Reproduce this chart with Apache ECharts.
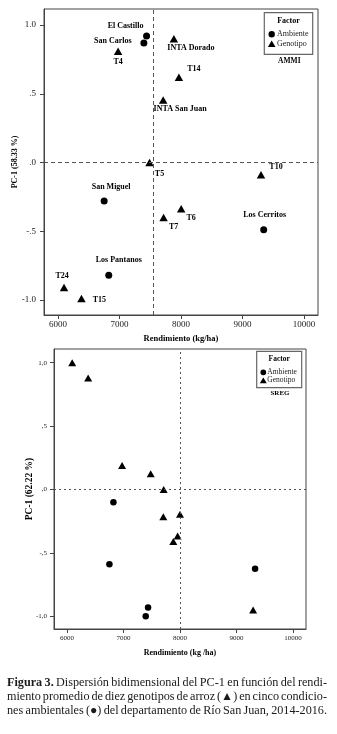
<!DOCTYPE html>
<html>
<head>
<meta charset="utf-8">
<script src="https://cdn.jsdelivr.net/npm/echarts@6/dist/echarts.min.js"></script>
<style>
  html, body { margin: 0; padding: 0; background: #fff; }
  #chart { width: 337px; height: 734px; }
</style>
</head>
<body>
<div id="chart"></div>
<script>
// ---- AMMI biplot: environments (circles) and genotypes (triangles) ----
const ammiEnvNames = ['El Castillo', 'San Carlos', 'San Miguel', 'Los Cerritos', 'Los Pantanos'];
const ammiEnvYield = [7440, 7396, 6750, 9345, 6825];
const ammiEnvPC1 = [0.92, 0.87, -0.28, -0.49, -0.82];

const ammiGenNames = ['T4', 'INTA Dorado', 'T14', 'INTA San Juan', 'T5', 'T10', 'T6', 'T7', 'T24', 'T15'];
const ammiGenYield = [6977, 7884, 7966, 7710, 7488, 9301, 8003, 7717, 6098, 6381];
const ammiGenPC1 = [0.81, 0.90, 0.62, 0.455, 0.0, -0.09, -0.337, -0.40, -0.91, -0.99];

const ammiMeanYield = 7554;

// ---- SREG biplot ----
const sregEnvYield = [6823, 6752, 9328, 7435, 7394];
const sregEnvPC1 = [-0.10, -0.59, -0.625, -0.93, -1.0];

const sregGenYield = [6094, 6376, 6976, 7482, 7711, 7705, 8000, 7958, 7882, 9293];
const sregGenPC1 = [1.0, 0.88, 0.19, 0.125, 0.0, -0.215, -0.195, -0.367, -0.41, -0.95];

const sregRefYield = 8000;

// ---- ticks ----
const xTicks = [6000, 7000, 8000, 9000, 10000];
const xTickLabels = ['6000', '7000', '8000', '9000', '10000'];
const yTicks = [-1, -0.5, 0, 0.5, 1];
const yTickLabelsAmmi = ['-1.0', '-.5', '.0', '.5', '1.0'];
const yTickLabelsSreg = ['-1,0', '-,5', ',0', ',5', '1,0'];

// label placement around each named point (pixels, label centre relative to marker)
const labelOffset = {
  'El Castillo': [-21, -10],
  'San Carlos': [-31, -2],
  'San Miguel': [7, -14],
  'Los Cerritos': [1, -15],
  'Los Pantanos': [10, -15],
  'T4': [0, 11],
  'INTA Dorado': [17, 9],
  'T14': [15, -8],
  'INTA San Juan': [17, 9],
  'T5': [10, 11],
  'T10': [15, -8],
  'T6': [10, 9],
  'T7': [10, 9],
  'T24': [-2, -12],
  'T15': [18, 1]
};

const SERIF = '"Liberation Serif", "Times New Roman", serif';
const INK = '#000';
const FRAME = '#444';

function pickLabel(ticks, labels) {
  return function (v) {
    for (let i = 0; i < ticks.length; i++) {
      if (Math.abs(ticks[i] - v) < 1e-9) return labels[i];
    }
    return '';
  };
}

function namedPoints(names, xs, ys) {
  return xs.map(function (x, i) {
    return {
      name: names[i],
      value: [x, ys[i]],
      label: { offset: labelOffset[names[i]] }
    };
  });
}

function plainPoints(xs, ys) {
  return xs.map(function (x, i) { return [x, ys[i]]; });
}

function xAxisCfg(grid, name, fontSize, margin, nameGap, nameSize) {
  return {
    gridIndex: grid, type: 'value', min: 5772, max: 10228,
    axisLine: { show: true, onZero: false, lineStyle: { color: FRAME, width: 1 } },
    axisTick: { show: true, length: 4, customValues: xTicks, lineStyle: { color: FRAME } },
    axisLabel: {
      customValues: xTicks, formatter: pickLabel(xTicks, xTickLabels),
      fontFamily: SERIF, fontSize: fontSize, color: '#222', margin: margin
    },
    splitLine: { show: false },
    name: name, nameLocation: 'middle', nameGap: nameGap, nameMoveOverlap: false,
    nameTextStyle: { fontFamily: SERIF, fontWeight: 'bold', fontSize: nameSize, color: INK }
  };
}

function yAxisCfg(grid, min, max, labels, name, fontSize, margin, nameGap, nameSize) {
  return {
    gridIndex: grid, type: 'value', min: min, max: max,
    axisLine: { show: true, onZero: false, lineStyle: { color: FRAME, width: 1 } },
    axisTick: { show: true, length: 4, customValues: yTicks, lineStyle: { color: FRAME } },
    axisLabel: {
      customValues: yTicks, formatter: pickLabel(yTicks, labels),
      fontFamily: SERIF, fontSize: fontSize, color: '#222', margin: margin
    },
    splitLine: { show: false },
    name: name, nameLocation: 'middle', nameGap: nameGap, nameMoveOverlap: false,
    nameTextStyle: { fontFamily: SERIF, fontWeight: 'bold', fontSize: nameSize, color: INK }
  };
}

const pointLabel = {
  show: true, position: 'inside', formatter: '{b}',
  fontFamily: SERIF, fontWeight: 'bold', fontSize: 8, color: INK,
  align: 'center', verticalAlign: 'middle'
};

function refLines(xVal, dash) {
  return {
    silent: true, symbol: 'none', animation: false,
    label: { show: false },
    lineStyle: { type: dash, color: '#555', width: 1 },
    data: [{ xAxis: xVal }, { yAxis: 0 }]
  };
}

// ---- legend boxes and caption drawn as graphics ----
function legendBox(x, y, w, h, fs, mx, textX, rowA, rowB, tag, tagX, tagY, titleY, r) {
  return [
    { type: 'rect', shape: { x: x, y: y, width: w, height: h }, style: { fill: '#fff', stroke: '#666', lineWidth: 1.2 }, z: 100 },
    { type: 'text', x: x + w / 2, y: titleY, style: { text: 'Factor', font: 'bold ' + fs + 'px ' + SERIF, fill: INK, align: 'center', verticalAlign: 'middle' }, z: 101 },
    { type: 'circle', shape: { cx: mx, cy: rowA, r: r }, style: { fill: INK }, z: 101 },
    { type: 'text', x: textX, y: rowA, style: { text: 'Ambiente', font: fs + 'px ' + SERIF, fill: '#222', align: 'left', verticalAlign: 'middle' }, z: 101 },
    { type: 'polygon', shape: { points: [[mx - r - 0.6, rowB + r], [mx + r + 0.6, rowB + r], [mx, rowB - r]] }, style: { fill: INK }, z: 101 },
    { type: 'text', x: textX, y: rowB, style: { text: 'Genotipo', font: fs + 'px ' + SERIF, fill: '#222', align: 'left', verticalAlign: 'middle' }, z: 101 },
    { type: 'text', x: tagX, y: tagY, style: { text: tag, font: 'bold ' + (fs - 0.5) + 'px ' + SERIF, fill: INK, align: 'center', verticalAlign: 'middle' }, z: 101 }
  ];
}

const captionLines = [
  { words: [['Figura', true], ['3.', true], ['Dispersión'], ['bidimensional'], ['del'], ['PC-1'], ['en'], ['función'], ['del'], ['rendi-']], y: 683, justify: true },
  { words: [['miento'], ['promedio'], ['de'], ['diez'], ['genotipos'], ['de'], ['arroz'], ['(▲)'], ['en'], ['cinco'], ['condicio-']], y: 697, justify: true },
  { words: [['nes'], ['ambientales'], ['(●)'], ['del'], ['departamento'], ['de'], ['Río'], ['San'], ['Juan,'], ['2014-2016.']], y: 711, justify: true }
];
const CAP_SIZE = 12.2;
const CAP_LEFT = 7;
const CAP_RIGHT = 327;

function captionGraphics() {
  const ctx = document.createElement('canvas').getContext('2d');
  const out = [];
  captionLines.forEach(function (line) {
    const fonts = line.words.map(function (w) {
      return (w[1] ? 'bold ' : '') + CAP_SIZE + 'px ' + SERIF;
    });
    const widths = line.words.map(function (w, i) { ctx.font = fonts[i]; return ctx.measureText(w[0]).width; });
    const total = widths.reduce(function (a, b) { return a + b; }, 0);
    ctx.font = CAP_SIZE + 'px ' + SERIF;
    const space = ctx.measureText(' ').width;
    const gap = line.justify ? (CAP_RIGHT - CAP_LEFT - total) / (line.words.length - 1) : space;
    let x = CAP_LEFT;
    line.words.forEach(function (w, i) {
      out.push({
        type: 'text', x: x, y: line.y,
        style: { text: w[0], font: fonts[i], fill: '#1a1a1a', align: 'left', verticalAlign: 'middle' }
      });
      x += widths[i] + gap;
    });
  });
  return out;
}

const chart = echarts.init(document.getElementById('chart'), null, { renderer: 'canvas' });

const option = {
  backgroundColor: '#fff',
  animation: false,
  grid: [
    { left: 44, top: 9, width: 274, height: 306, show: true, borderColor: FRAME, borderWidth: 1, backgroundColor: 'transparent' },
    { left: 54, top: 349, width: 252, height: 280, show: true, borderColor: FRAME, borderWidth: 1, backgroundColor: 'transparent' }
  ],
  xAxis: [
    xAxisCfg(0, 'Rendimiento (kg/ha)', 9, 5, 19, 8.5),
    xAxisCfg(1, 'Rendimiento (kg /ha)', 7, 6, 20, 8)
  ],
  yAxis: [
    yAxisCfg(0, -1.11, 1.117, yTickLabelsAmmi, 'PC-1 (58.33 %)', 9, 8, 25, 8),
    yAxisCfg(1, -1.1, 1.108, yTickLabelsSreg, 'PC-1 (62.22 %)', 7, 7, 19, 9.5)
  ],
  series: [
    {
      name: 'Ambiente', type: 'scatter', xAxisIndex: 0, yAxisIndex: 0,
      symbol: 'circle', symbolSize: 7, itemStyle: { color: INK, opacity: 1 },
      label: pointLabel,
      data: namedPoints(ammiEnvNames, ammiEnvYield, ammiEnvPC1)
    },
    {
      name: 'Genotipo', type: 'scatter', xAxisIndex: 0, yAxisIndex: 0,
      symbol: 'triangle', symbolSize: [8.5, 7.5], itemStyle: { color: INK, opacity: 1 },
      label: pointLabel,
      data: namedPoints(ammiGenNames, ammiGenYield, ammiGenPC1),
      markLine: refLines(ammiMeanYield, [4, 3])
    },
    {
      name: 'Ambiente', type: 'scatter', xAxisIndex: 1, yAxisIndex: 1,
      symbol: 'circle', symbolSize: 6.5, itemStyle: { color: INK, opacity: 1 },
      data: plainPoints(sregEnvYield, sregEnvPC1)
    },
    {
      name: 'Genotipo', type: 'scatter', xAxisIndex: 1, yAxisIndex: 1,
      symbol: 'triangle', symbolSize: [8, 7], itemStyle: { color: INK, opacity: 1 },
      data: plainPoints(sregGenYield, sregGenPC1),
      markLine: refLines(sregRefYield, [2, 3])
    }
  ],
  graphic: [].concat(
    legendBox(264.3, 12.7, 48.4, 41.6, 8, 271.7, 277, 34.3, 43.7, 'AMMI', 289.3, 61, 21.3, 3.2),
    legendBox(256.7, 351.3, 45, 36.4, 7.5, 263.3, 267.3, 372.3, 380.3, 'SREG', 280, 393.3, 359.5, 2.9),
    captionGraphics()
  )
};

chart.setOption(option);
</script>
</body>
</html>
